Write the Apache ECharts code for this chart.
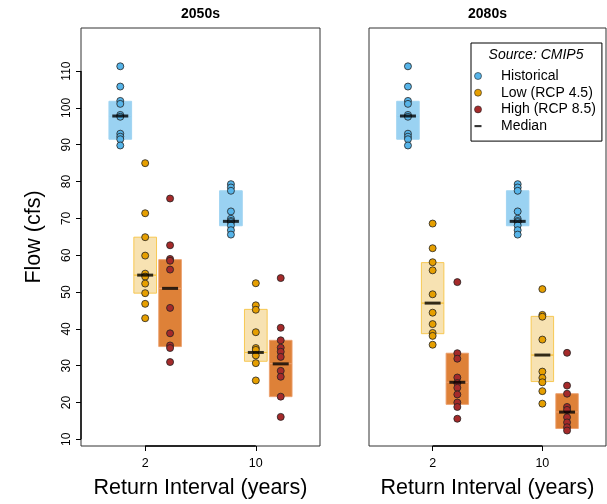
<!DOCTYPE html>
<html>
<head>
<meta charset="utf-8">
<script src="https://cdn.jsdelivr.net/npm/echarts@6/dist/echarts.min.js"></script>
<style>
  html, body { margin: 0; padding: 0; background: #fff; }
  #chart { width: 607px; height: 504px; }
</style>
</head>
<body>
<div id="chart"></div>
<script>
// Panels and categories
const periods = ['2050s', '2080s'];
const returnIntervals = ['2', '10'];
const flowTicks = [10, 20, 30, 40, 50, 60, 70, 80, 90, 100, 110];

// Historical ensemble (same baseline in both panels): 2-yr and 10-yr flows
const histR2 = [111.3, 105.8, 101.9, 101.1, 98.1, 97.6, 93.0, 92.2, 91.5, 89.8];
const histR10 = [79.3, 78.4, 77.5, 71.9, 69.9, 69.3, 69.0, 68.1, 66.8, 65.6];
const histBox = [[91.5, 101.8], [68.0, 77.5]];
const histMedian = [97.8, 69.2];

// 2050s, Low (RCP 4.5)
const low2050R2 = [85.0, 71.4, 64.9, 59.9, 55.0, 54.2, 52.3, 49.7, 46.8, 42.9];
const low2050R10 = [52.4, 46.4, 45.2, 39.1, 34.8, 34.3, 32.8, 30.7, 26.0];
const low2050Box = [[49.7, 64.9], [31.2, 45.3]];
const low2050Median = [54.6, 33.6];

// 2050s, High (RCP 8.5)
const high2050R2 = [75.4, 62.7, 59.0, 58.5, 56.1, 45.7, 38.8, 35.5, 34.8, 31.0];
const high2050R10 = [53.8, 40.3, 36.9, 34.9, 33.8, 32.4, 28.6, 27.0, 21.6, 16.1];
const high2050Box = [[35.2, 58.8], [21.6, 36.9]];
const high2050Median = [51.0, 30.5];

// 2080s, Low (RCP 4.5)
const low2080R2 = [68.6, 61.9, 58.1, 55.9, 49.4, 44.4, 41.3, 38.9, 38.1, 35.7];
const low2080R10 = [50.8, 43.8, 43.3, 37.1, 28.4, 26.7, 25.5, 23.1, 19.7];
const low2080Box = [[38.7, 58.0], [25.7, 43.4]];
const low2080Median = [47.0, 32.9];

// 2080s, High (RCP 8.5)
const high2080R2 = [52.7, 33.4, 31.9, 26.8, 25.3, 24.0, 22.2, 20.0, 18.8, 15.6];
const high2080R10 = [33.5, 24.6, 22.4, 18.8, 18.0, 16.0, 14.6, 13.3, 12.4];
const high2080Box = [[19.5, 33.4], [12.95, 22.4]];
const high2080Median = [25.5, 17.4];

const scenarioNames = ['Historical', 'Low (RCP 4.5)', 'High (RCP 8.5)'];
const pointColors = ['#56B4E9', '#E69F00', '#A52A2A'];
const boxStyles = [
  { fill: 'rgba(86,180,233,0.6)', stroke: 'rgba(160,212,242,1)', lineWidth: 1 },
  { fill: 'rgba(230,159,0,0.3)', stroke: 'rgba(246,196,70,0.9)', lineWidth: 1 },
  { fill: 'rgba(213,94,0,0.78)', stroke: 'rgba(236,160,110,0.9)', lineWidth: 1 }
];

const FONT = '"Liberation Sans", Arial, Helvetica, sans-serif';
const X_MIN = 0.42, X_MAX = 2.58, Y_MIN = 8.2, Y_MAX = 121.7;
const OFFSET = [-0.225, 0, 0.225];
const BOX_W = 0.205;

// per panel: [points(scenario)(interval)], boxes, medians
const panels = [
  {
    points: [[histR2, histR10], [low2050R2, low2050R10], [high2050R2, high2050R10]],
    boxes: [histBox, low2050Box, high2050Box],
    medians: [histMedian, low2050Median, high2050Median]
  },
  {
    points: [[histR2, histR10], [low2080R2, low2080R10], [high2080R2, high2080R10]],
    boxes: [histBox, low2080Box, high2080Box],
    medians: [histMedian, low2080Median, high2080Median]
  }
];

const grids = [
  { left: 81, top: 28, width: 239, height: 424.3 },
  { left: 369, top: 28, width: 237, height: 424.3 }
];

function renderBox(params, api) {
  const x = api.value(0), lo = api.value(1), med = api.value(2), hi = api.value(3), k = api.value(4);
  const tl = api.coord([x - BOX_W / 2, hi]);
  const mr = api.coord([x + BOX_W / 2, med]);
  const br = api.coord([x + BOX_W / 2, lo]);
  const st = boxStyles[k];
  return {
    type: 'group',
    children: [
      { type: 'rect', shape: { x: tl[0], y: tl[1], width: mr[0] - tl[0], height: mr[1] - tl[1] }, style: st },
      { type: 'rect', shape: { x: tl[0], y: mr[1], width: br[0] - tl[0], height: br[1] - mr[1] }, style: st }
    ]
  };
}

const xAxes = [], yAxes = [], series = [];
panels.forEach((p, pi) => {
  grids[pi].show = true;
  grids[pi].borderColor = '#333';
  grids[pi].borderWidth = 1;
  xAxes.push({
    type: 'value', gridIndex: pi, min: X_MIN, max: X_MAX,
    axisLine: { show: false },
    splitLine: { show: false },
    axisTick: { show: true, customValues: [1, 2], length: 5, lineStyle: { color: '#000' } },
    axisLabel: {
      customValues: [1, 2], margin: 11, color: '#000', fontSize: 12.5, fontFamily: FONT,
      formatter: v => returnIntervals[Math.round(v) - 1]
    },
    name: 'Return Interval (years)', nameLocation: 'middle', nameGap: 31,
    nameTextStyle: { fontSize: 21.5, fontFamily: FONT, color: '#000' }
  });
  yAxes.push({
    type: 'value', gridIndex: pi, min: Y_MIN, max: Y_MAX,
    axisLine: { show: false },
    splitLine: { show: false },
    axisTick: { show: pi === 0, customValues: flowTicks, length: 5, lineStyle: { color: '#000' } },
    axisLabel: {
      show: pi === 0, customValues: flowTicks, rotate: 90, margin: 8,
      color: '#000', fontSize: 12, fontFamily: FONT
    },
    name: pi === 0 ? 'Flow (cfs)' : '', nameLocation: 'middle', nameGap: 36,
    nameTextStyle: { fontSize: 21.5, fontFamily: FONT, color: '#000' }
  });

  // boxes
  const boxData = [];
  p.boxes.forEach((b, s) => b.forEach((r, g) => {
    boxData.push([g + 1 + OFFSET[s], r[0], p.medians[s][g], r[1], s]);
  }));
  series.push({
    type: 'custom', xAxisIndex: pi, yAxisIndex: pi, renderItem: renderBox,
    data: boxData, encode: { x: 0, y: [1, 2, 3] }, z: 1, silent: true
  });

  // axis segments from first to last tick
  series.push({
    type: 'line', xAxisIndex: pi, yAxisIndex: pi, data: [[1, Y_MIN], [2, Y_MIN]],
    symbol: 'none', clip: false, silent: true, z: 5,
    lineStyle: { color: '#000', width: 1.6 }
  });
  if (pi === 0) {
    series.push({
      type: 'line', xAxisIndex: pi, yAxisIndex: pi, data: [[X_MIN, 10], [X_MIN, 110]],
      symbol: 'none', clip: false, silent: true, z: 5,
      lineStyle: { color: '#000', width: 1.4 }
    });
  }

  // points
  p.points.forEach((groups, s) => {
    const data = [];
    groups.forEach((vals, g) => vals.forEach(v => data.push([g + 1 + OFFSET[s], v])));
    series.push({
      type: 'scatter', name: scenarioNames[s], xAxisIndex: pi, yAxisIndex: pi,
      data, symbol: 'circle', symbolSize: 7, z: 3,
      itemStyle: { color: pointColors[s], borderColor: '#222', borderWidth: 0.8, opacity: 1 }
    });
  });

  // medians
  const medData = [];
  p.medians.forEach((m, s) => m.forEach((v, g) => medData.push([g + 1 + OFFSET[s], v])));
  series.push({
    type: 'scatter', name: 'Median', xAxisIndex: pi, yAxisIndex: pi,
    data: medData, symbol: 'rect', symbolSize: [16, 3], z: 4,
    itemStyle: { color: '#000' }
  });
});

const chart = echarts.init(document.getElementById('chart'), null, { renderer: 'canvas' });
chart.setOption({
  animation: false,
  backgroundColor: '#fff',
  grid: grids,
  xAxis: xAxes,
  yAxis: yAxes,
  legend: {
    left: 471, top: 43, orient: 'vertical', selectedMode: false,
    borderColor: '#000', borderWidth: 1, borderRadius: 0,
    padding: [26, 6, 8, 3.2],
    itemWidth: 7, itemHeight: 7, itemGap: 2.7,
    itemStyle: { borderWidth: 0.6, borderColor: '#222' },
    textStyle: { fontSize: 14, fontFamily: FONT, color: '#000', lineHeight: 14, padding: [0, 0, 0, 14.5] },
    data: [
      { name: 'Historical' },
      { name: 'Low (RCP 4.5)' },
      { name: 'High (RCP 8.5)' },
      { name: 'Median', icon: 'path://M0,0 L10,0 L10,3 L0,3 Z', itemStyle: { borderWidth: 0, color: '#000' } }
    ]
  },
  graphic: [
    { type: 'text', x: 200.5, y: 14, style: { text: periods[0], font: 'bold 14px ' + FONT, textAlign: 'center', textVerticalAlign: 'middle', fill: '#000' } },
    { type: 'text', x: 487.5, y: 14, style: { text: periods[1], font: 'bold 14px ' + FONT, textAlign: 'center', textVerticalAlign: 'middle', fill: '#000' } },
    { type: 'text', x: 536, y: 55.5, z: 10, style: { text: 'Source: CMIP5', font: 'italic 14px ' + FONT, textAlign: 'center', textVerticalAlign: 'middle', fill: '#000' } }
  ],
  series
});
</script>
</body>
</html>
